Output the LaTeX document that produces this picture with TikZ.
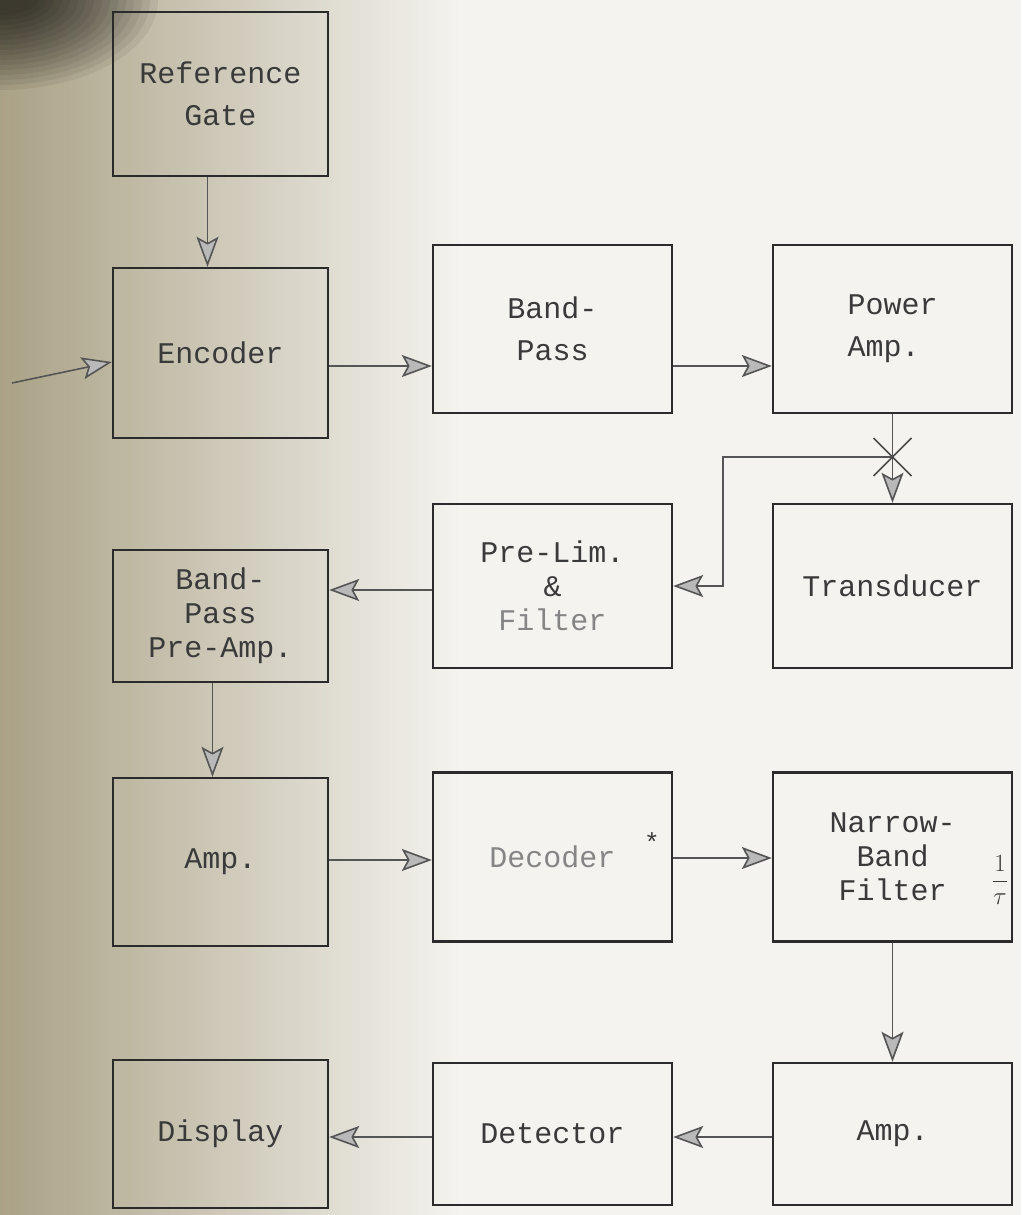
\documentclass[tikz,border=0pt]{standalone}
\usepackage{fontspec}
\setmonofont{Liberation Mono}
\usetikzlibrary{arrows.meta,calc,positioning}
\definecolor{Paper}{HTML}{F4F3EF}
\definecolor{Ink}{HTML}{2B2B2B}
\definecolor{Type}{HTML}{3A3A3A}
\definecolor{Faded}{HTML}{858585}
\definecolor{Umber}{HTML}{6E5F30}
\definecolor{Tip}{HTML}{B9B9B9}
\tikzset{
  flow/.style={-{Stealth[length=30pt,width=22pt,inset=6pt,fill=Tip]},line width=1.6pt,draw=Ink!80},
  blockbox/.style={draw=Ink,line width=2.4pt,inner sep=0pt,align=center,text=Type,
    font=\fontsize{30}{34}\selectfont\ttfamily},
  colA/.style={blockbox,minimum width=215pt},
  colB/.style={blockbox,minimum width=239pt},
  crossmark/.style={line width=1.5pt,draw=Ink!85},
  note/.style={inner sep=0pt,text=Type,font=\fontsize{26}{30}\selectfont\ttfamily},
}

\begin{document}
\begin{tikzpicture}[x=1pt,y=-1pt]
    \useasboundingbox (0,0) rectangle (1021,1215);
    % photographed page
    \fill[Paper] (0,0) rectangle (1021,1215);
    \shade[left color=Umber!55!Paper,right color=Paper] (0,0) rectangle (460,1215);
    \foreach \k in {1,...,16}
      \fill[black,opacity=0.06] (0,0) ellipse ({30+8*\k} and {10+5*\k});

    % left column
    \node[colA,minimum height=164pt] (refgate) at (220.5,94) {Reference\\[8pt]Gate};
    \node[colA,minimum height=170pt] (encoder) at (220.5,353) {Encoder};
    \node[colA,minimum height=132pt] (bppre) at (220.5,616) {Band-\\Pass\\Pre-Amp.};
    \node[colA,minimum height=168pt] (ampa) at (220.5,862) {Amp.};
    \node[colA,minimum height=148pt] (display) at (220.5,1134) {Display};

    % middle column
    \node[colB,minimum height=168pt] (bandpass) at (552.5,329) {Band-\\[8pt]Pass};
    \node[colB,minimum height=164pt] (prelim) at (552.5,586) {Pre-Lim.\\\&\\\textcolor{Faded}{Filter}};
    \node[colB,minimum height=169pt,text=Faded] (decoder) at (552.5,857) {Decoder};
    \node[colB,minimum height=142pt] (detector) at (552.5,1134) {Detector};

    % right column
    \node[colB,minimum height=168pt,align=left] (powamp) at (892.5,329) {Power\\[8pt]Amp.};
    \node[colB,minimum height=164pt] (transducer) at (892.5,586) {Transducer};
    \node[colB,minimum height=169pt] (narrow) at (892.5,857) {Narrow-\\Band\\Filter};
    \node[colB,minimum height=142pt] (ampb) at (892.5,1134) {Amp.};

    \node[note] (star) at (652,842) {*};
    \node[note] (tau) at (1000,880) {$\displaystyle\frac{1}{\tau}$};

    % signal path
    \coordinate (input) at (12,383);
    \draw[flow] (input) -- (encoder.west |- 0,362);
    \draw[flow] ([xshift=-13pt]refgate.south) -- ([xshift=-13pt]encoder.north);
    \draw[flow] (encoder.east |- 0,366) -- (bandpass.west |- 0,366);
    \draw[flow] (bandpass.east |- 0,366) -- (powamp.west |- 0,366);
    \draw[flow] (powamp.south) -- (transducer.north);
    \coordinate (split) at (powamp.south |- 0,457);
    \coordinate (bend) at (723,457);
    \draw[flow] (split) -- (bend) |- (prelim.east);
    \draw[crossmark] ($(split)+(-19,-19)$) -- ($(split)+(19,19)$);
    \draw[crossmark] ($(split)+(-19,19)$) -- ($(split)+(19,-19)$);
    \draw[flow] (prelim.west |- 0,590) -- (bppre.east |- 0,590);
    \draw[flow] ([xshift=-8pt]bppre.south) -- ([xshift=-8pt]ampa.north);
    \draw[flow] (ampa.east |- 0,860) -- (decoder.west |- 0,860);
    \draw[flow] (decoder.east |- 0,858) -- (narrow.west |- 0,858);
    \draw[flow] (narrow.south) -- (ampb.north);
    \draw[flow] (ampb.west |- 0,1137) -- (detector.east |- 0,1137);
    \draw[flow] (detector.west |- 0,1137) -- (display.east |- 0,1137);
\end{tikzpicture}
\end{document}
